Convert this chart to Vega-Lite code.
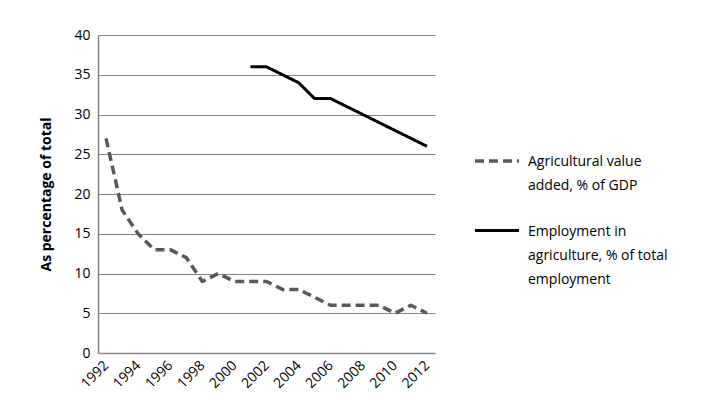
{
  "$schema": "https://vega.github.io/schema/vega-lite/v6.json",
  "autosize": {"type": "none"},
  "width": 337,
  "height": 318,
  "padding": {"left": 98, "top": 35, "right": 279, "bottom": 60},
  "background": "white",
  "config": {
    "view": {"stroke": null},
    "font": "Open Sans",
    "axis": {"labelFont": "Open Sans", "titleFont": "Open Sans", "labelColor": "#000000", "titleColor": "#000000"},
    "legend": {"labelFont": "Open Sans"}
  },
  "data": {
    "values": [
      {"year": 1992, "series": "Agricultural value added, % of GDP", "value": 27},
      {"year": 1993, "series": "Agricultural value added, % of GDP", "value": 18},
      {"year": 1994, "series": "Agricultural value added, % of GDP", "value": 15},
      {"year": 1995, "series": "Agricultural value added, % of GDP", "value": 13},
      {"year": 1996, "series": "Agricultural value added, % of GDP", "value": 13},
      {"year": 1997, "series": "Agricultural value added, % of GDP", "value": 12},
      {"year": 1998, "series": "Agricultural value added, % of GDP", "value": 9},
      {"year": 1999, "series": "Agricultural value added, % of GDP", "value": 10},
      {"year": 2000, "series": "Agricultural value added, % of GDP", "value": 9},
      {"year": 2001, "series": "Agricultural value added, % of GDP", "value": 9},
      {"year": 2002, "series": "Agricultural value added, % of GDP", "value": 9},
      {"year": 2003, "series": "Agricultural value added, % of GDP", "value": 8},
      {"year": 2004, "series": "Agricultural value added, % of GDP", "value": 8},
      {"year": 2005, "series": "Agricultural value added, % of GDP", "value": 7},
      {"year": 2006, "series": "Agricultural value added, % of GDP", "value": 6},
      {"year": 2007, "series": "Agricultural value added, % of GDP", "value": 6},
      {"year": 2008, "series": "Agricultural value added, % of GDP", "value": 6},
      {"year": 2009, "series": "Agricultural value added, % of GDP", "value": 6},
      {"year": 2010, "series": "Agricultural value added, % of GDP", "value": 5},
      {"year": 2011, "series": "Agricultural value added, % of GDP", "value": 6},
      {"year": 2012, "series": "Agricultural value added, % of GDP", "value": 5},
      {"year": 2001, "series": "Employment in agriculture, % of total employment", "value": 36},
      {"year": 2002, "series": "Employment in agriculture, % of total employment", "value": 36},
      {"year": 2003, "series": "Employment in agriculture, % of total employment", "value": 35},
      {"year": 2004, "series": "Employment in agriculture, % of total employment", "value": 34},
      {"year": 2005, "series": "Employment in agriculture, % of total employment", "value": 32},
      {"year": 2006, "series": "Employment in agriculture, % of total employment", "value": 32},
      {"year": 2007, "series": "Employment in agriculture, % of total employment", "value": 31},
      {"year": 2008, "series": "Employment in agriculture, % of total employment", "value": 30},
      {"year": 2009, "series": "Employment in agriculture, % of total employment", "value": 29},
      {"year": 2010, "series": "Employment in agriculture, % of total employment", "value": 28},
      {"year": 2011, "series": "Employment in agriculture, % of total employment", "value": 27},
      {"year": 2012, "series": "Employment in agriculture, % of total employment", "value": 26}
    ]
  },
  "mark": {"type": "line", "strokeCap": "butt", "strokeJoin": "round"},
  "encoding": {
    "x": {
      "field": "year",
      "type": "ordinal",
      "scale": {"type": "point", "padding": 0.5},
      "axis": {
        "title": null,
        "values": [1992, 1994, 1996, 1998, 2000, 2002, 2004, 2006, 2008, 2010, 2012],
        "labelAngle": -45,
        "labelAlign": "right",
        "labelBaseline": "middle",
        "labelFontSize": 14,
        "labelPadding": 10,
        "ticks": false,
        "domainColor": "#868686",
        "domainWidth": 1.5,
        "grid": false
      }
    },
    "y": {
      "field": "value",
      "type": "quantitative",
      "scale": {"domain": [0, 40], "nice": false},
      "axis": {
        "title": "As percentage of total",
        "titleFontSize": 14,
        "titleFontWeight": "bold",
        "titlePadding": 20,
        "values": [0, 5, 10, 15, 20, 25, 30, 35, 40],
        "labelFontSize": 14,
        "labelPadding": 8,
        "ticks": false,
        "domainColor": "#868686",
        "domainWidth": 1.5,
        "gridColor": "#868686",
        "gridWidth": 1.2
      }
    },
    "color": {
      "field": "series",
      "type": "nominal",
      "scale": {"domain": ["Agricultural value added, % of GDP", "Employment in agriculture, % of total employment"], "range": ["#595959", "#000000"]},
      "legend": {
        "title": null,
        "orient": "none",
        "legendX": 375,
        "legendY": 102,
        "symbolType": "stroke",
        "symbolSize": 1936,
        "symbolStrokeWidth": 3.5,
        "symbolDash": [9, 5],
        "labelFontSize": 14,
        "labelOffset": 7,
        "labelLimit": 300,
        "labelBaseline": "alphabetic",
        "labelColor": "#000000",
        "rowPadding": 14,
        "labelExpr": "datum.label == 'Agricultural value added, % of GDP' ? ['Agricultural value', 'added, % of GDP'] : ['Employment in', 'agriculture, % of total', 'employment']",
        "encode": {"labels": {"update": {"lineHeight": {"value": 24}, "dy": {"value": 5}}}}
      }
    },
    "strokeDash": {
      "field": "series",
      "type": "nominal",
      "scale": {"domain": ["Agricultural value added, % of GDP", "Employment in agriculture, % of total employment"], "range": [[9, 5], [1, 0]]},
      "legend": null
    },
    "strokeWidth": {
      "field": "series",
      "type": "nominal",
      "scale": {"domain": ["Agricultural value added, % of GDP", "Employment in agriculture, % of total employment"], "range": [3.5, 3]},
      "legend": null
    }
  }
}
